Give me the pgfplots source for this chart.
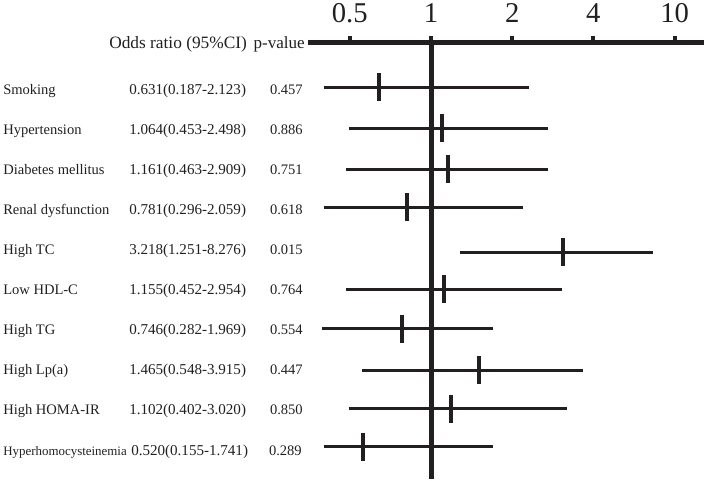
\documentclass[border=0pt]{standalone}
\usepackage{pgfplots}
\pgfplotsset{compat=1.18}
\usepackage{fontspec}
\setmainfont{Liberation Serif}
\definecolor{fg}{RGB}{35,31,32}
\begin{document}
\begin{tikzpicture}
\useasboundingbox (0,0) rectangle (528pt,-360pt);
\begin{axis}[
  at={(230.625pt,-32.025pt)}, anchor=north west,
  scale only axis, width=297pt, height=328pt,
  xmode=log, log basis x=2,
  xmin=0.3484, xmax=10.24,
  ymin=42.7, ymax=480, y dir=reverse,
  axis x line*=top, axis y line=none,
  axis line style={-, line width=3.75pt, color=fg},
  xtick={0.5,1,2,4,8}, xticklabels={0.5,1,2,4,10},
  tick align=outside, major tick length=5pt,
  xtick style={line width=3pt, color=fg},
  /pgf/number format/assume math mode=true,
  xticklabel style={font=\fontsize{21.5}{21.5}\selectfont, text=fg, anchor=base, yshift=10.3pt},
  clip=false,
]
% reference line at OR = 1
\addplot[fg, line width=3.75pt] coordinates {(1,42.7) (1,479)};
% confidence intervals (as drawn)
\addplot[fg, line width=2.25pt] coordinates {(0.401,87) (2.314,87)};
\addplot[fg, line width=2.25pt] coordinates {(0.4966,128.3) (2.722,128.3)};
\addplot[fg, line width=2.25pt] coordinates {(0.4853,169.3) (2.722,169.3)};
\addplot[fg, line width=2.25pt] coordinates {(0.401,207) (2.199,207)};
\addplot[fg, line width=2.25pt] coordinates {(1.2776,252.3) (6.653,252.3)};
\addplot[fg, line width=2.25pt] coordinates {(0.4828,289) (3.067,289)};
\addplot[fg, line width=2.25pt] coordinates {(0.3944,328.7) (1.693,328.7)};
\addplot[fg, line width=2.25pt] coordinates {(0.5549,370.3) (3.670,370.3)};
\addplot[fg, line width=2.25pt] coordinates {(0.4953,408.7) (3.185,408.7)};
\addplot[fg, line width=2.25pt] coordinates {(0.4022,446.5) (1.693,446.5)};
% point estimates (as drawn)
\addplot[only marks, mark=|, mark size=10.5pt, mark options={fg, line width=3pt}] coordinates {
(0.6417,87) (1.0956,128.3) (1.153,169.3) (0.8169,207) (3.0935,252.3)
(1.120,289) (0.7827,328.7) (1.510,370.3) (1.183,408.7) (0.5582,446.5)};
\end{axis}
\begin{scope}[x=0.75pt, y=-0.75pt, every node/.style={text=fg, inner sep=0pt}]
\node[anchor=base west, font=\fontsize{13}{15}\selectfont] at (109,48.4) {Odds ratio (95\%CI)};
\node[anchor=base east, font=\fontsize{12.8}{15}\selectfont] at (305,48.4) {p-value};
\foreach \y/\name/\val/\p in {
 94.3/Smoking/0.631(0.187-2.123)/0.457,
 134.4/Hypertension/1.064(0.453-2.498)/0.886,
 174.5/Diabetes mellitus/1.161(0.463-2.909)/0.751,
 214.5/Renal dysfunction/0.781(0.296-2.059)/0.618,
 254.6/High TC/3.218(1.251-8.276)/0.015,
 294.7/Low HDL-C/1.155(0.452-2.954)/0.764,
 334.8/High TG/0.746(0.282-1.969)/0.554,
 374.9/High Lp(a)/1.465(0.548-3.915)/0.447,
 414.9/High HOMA-IR/1.102(0.402-3.020)/0.850}{
  \node[anchor=base west, font=\fontsize{10.9}{13}\selectfont] at (3,\y) {\name};
  \node[anchor=base west, font=\fontsize{11.3}{13}\selectfont] at (129,\y) {\val};
  \node[anchor=base east, font=\fontsize{10.9}{13}\selectfont] at (303,\y) {\p};
}
\node[anchor=base west, font=\fontsize{9.7}{12}\selectfont] at (3,455) {Hyperhomocysteinemia};
\node[anchor=base west, font=\fontsize{11.3}{13}\selectfont] at (131,455) {0.520(0.155-1.741)};
\node[anchor=base east, font=\fontsize{10.9}{13}\selectfont] at (302,455) {0.289};
\end{scope}
\end{tikzpicture}
\end{document}
